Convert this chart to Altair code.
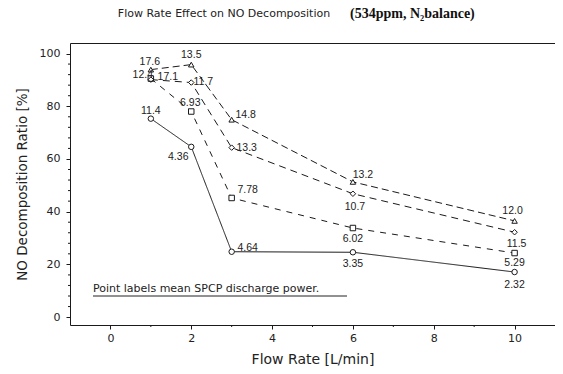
import altair as alt
import pandas as pd

# ---- data ----
flow = [1, 2, 3, 6, 10]
series_names = [
    "SPCP Low Power (5kVₚₚ)",
    "SPCP Low Power + Corona(10kV)",
    "SPCP High Power (5.3kVₚₚ)",
    "SPCP High Power + Corona(10kV)",
]
low_power = [75.3, 64.6, 24.8, 24.6, 17.1]
low_corona = [90.5, 78.0, 45.2, 33.8, 24.3]
high_power = [90.1, 89.0, 64.3, 46.8, 32.2]
high_corona = [93.9, 95.8, 74.9, 51.3, 36.5]

low_power_kw = ["11.4", "4.36", "4.64", "3.35", "2.32"]
low_corona_kw = ["17.1", "6.93", "7.78", "6.02", "5.29"]
high_power_kw = ["12.4", "11.7", "13.3", "10.7", "11.5"]
high_corona_kw = ["17.6", "13.5", "14.8", "13.2", "12.0"]

x_ticks = [0, 2, 4, 6, 8, 10]
x_minor = [1, 3, 5, 7, 9]
y_ticks = [0, 20, 40, 60, 80, 100]
y_minor = [4, 8, 12, 16, 24, 28, 32, 36, 44, 48, 52, 56, 64, 68, 72, 76, 84, 88, 92, 96]

title_main = "Flow Rate Effect on NO Decomposition"
title_cond = "(534ppm, N₂balance)"
note = "Point labels mean SPCP discharge power."

# ---- style: label offsets in pixels (dx, dy) per point ----
label_offsets = [
    [(0, -8), (-13, 10), (16, -4), (0, 12), (0, 13)],
    [(17, -2), (-1, -9), (16, -8), (0, 11), (0, 10)],
    [(-8, -5), (12, -1), (15, 0), (2, 13), (2, 12)],
    [(-1, -8), (0, -10), (14, -5), (10, -7), (-2, -10)],
]

rows = []
for name, vals, labs, offs in zip(series_names,
                                  [low_power, low_corona, high_power, high_corona],
                                  [low_power_kw, low_corona_kw, high_power_kw, high_corona_kw],
                                  label_offsets):
    for f, v, l, (dx, dy) in zip(flow, vals, labs, offs):
        rows.append(dict(series=name, line_series=name, flow=f, ratio=v, label=l, dx=dx, dy=dy))
df = pd.DataFrame(rows)

SANS = "DejaVu Sans"
LSANS = "Liberation Sans"
SERIF = "Liberation Serif"
INK = "#1a1a1a"
shape_range = ["circle", "square", "diamond", "triangle-up"]

xscale = alt.Scale(domain=[-1, 11], nice=False, zero=False)
yscale = alt.Scale(domain=[-3, 104], nice=False, zero=False)

xaxis = alt.Axis(values=x_ticks, grid=False, domain=False, tickSize=4, tickColor=INK,
                 labelPadding=3, labelFont=SANS, labelFontSize=11, labelColor="#222",
                 title="Flow Rate [L/min]", titleFont=SANS, titleFontSize=14,
                 titleFontWeight="normal", titleColor="#222", titlePadding=9)
yaxis = alt.Axis(values=y_ticks, grid=False, domain=False, tickSize=4, tickColor=INK,
                 labelPadding=6, labelFont=SANS, labelFontSize=11, labelColor="#222",
                 title="NO Decomposition Ratio [%]", titleFont=SANS, titleFontSize=13.5,
                 titleFontWeight="normal", titleColor="#222", titlePadding=10)

X = alt.X("flow:Q", scale=xscale, axis=xaxis)
Y = alt.Y("ratio:Q", scale=yscale, axis=yaxis)

base = alt.Chart(df)

lines = base.mark_line(color=INK).encode(
    x=X, y=Y,
    detail="line_series:N",
    strokeDash=alt.StrokeDash("line_series:N", legend=None,
                              scale=alt.Scale(domain=series_names,
                                              range=[[1, 0], [6, 6], [7, 5], [7, 4]])),
    strokeWidth=alt.StrokeWidth("line_series:N", legend=None,
                                scale=alt.Scale(domain=series_names,
                                                range=[1, 1, 1.2, 2.2])),
)

# white interiors under the open markers (constant shape per series, no shape channel)
masks = []
for name, shp in zip(series_names, shape_range):
    masks.append(
        alt.Chart(df[df["series"] == name]).mark_point(
            filled=True, color="white", opacity=1, size=30, shape=shp
        ).encode(x=X, y=Y)
    )

points = base.mark_point(filled=False, color=INK, strokeWidth=1, opacity=1, size=30).encode(
    x=X, y=Y,
    shape=alt.Shape("series:N",
                    scale=alt.Scale(domain=series_names, range=shape_range),
                    legend=alt.Legend(title=None, orient="top-right", offset=11,
                                      labelFont=SERIF, labelFontSize=8, labelColor="#111",
                                      symbolStrokeColor=INK, symbolStrokeWidth=1,
                                      symbolSize=30, rowPadding=10, padding=8,
                                      labelOffset=12, symbolOffset=4,
                                      strokeColor="#666", fillColor="white",
                                      labelLimit=300)),
)

# one text layer per distinct pixel offset
label_layers = []
for (dx, dy), grp in df.groupby(["dx", "dy"]):
    label_layers.append(
        alt.Chart(grp).mark_text(font=LSANS, fontSize=10.5, color="#222", align="center",
                                 baseline="middle", dx=int(dx), dy=int(dy)).encode(
            x=X, y=Y, text="label:N")
    )

tick_df_y = pd.DataFrame({"v": y_minor})
tick_df_x = pd.DataFrame({"v": x_minor})
minor_y = alt.Chart(tick_df_y).mark_rule(color=INK, strokeWidth=1).encode(
    y=alt.Y("v:Q", scale=yscale, axis=yaxis), x=alt.value(-2), x2=alt.value(0))
minor_x = alt.Chart(tick_df_x).mark_rule(color=INK, strokeWidth=1).encode(
    x=alt.X("v:Q", scale=xscale, axis=xaxis), y=alt.value(282), y2=alt.value(284))

t1 = alt.Chart(pd.DataFrame({"t": [title_main]})).mark_text(
    font=SANS, fontSize=11, color="#222", align="center", baseline="middle"
).encode(text="t:N", x=alt.value(154), y=alt.value(-29))

t2 = alt.Chart(pd.DataFrame({"t": [title_cond]})).mark_text(
    font=SERIF, fontSize=14, fontWeight="bold", color="#111", align="left", baseline="middle"
).encode(text="t:N", x=alt.value(280), y=alt.value(-29))

t3 = alt.Chart(pd.DataFrame({"t": [note]})).mark_text(
    font=SANS, fontSize=11, color="#222", align="left", baseline="middle"
).encode(text="t:N", x=alt.value(23), y=alt.value(246))

underline = alt.Chart(pd.DataFrame({"t": [note]})).mark_rule(
    color="#222", strokeWidth=1
).encode(x=alt.value(23), x2=alt.value(277), y=alt.value(253))

chart = alt.layer(lines, *masks, points, *label_layers, minor_y, minor_x, t1, t2, t3, underline).properties(
    width=485, height=282,
    padding={"left": 62, "top": 35, "right": 0, "bottom": 41},
    autosize=alt.AutoSizeParams(type="none"),
).configure_view(stroke=INK, strokeWidth=1)

chart.save("out.html", embed_options={"renderer": "svg", "actions": False})
